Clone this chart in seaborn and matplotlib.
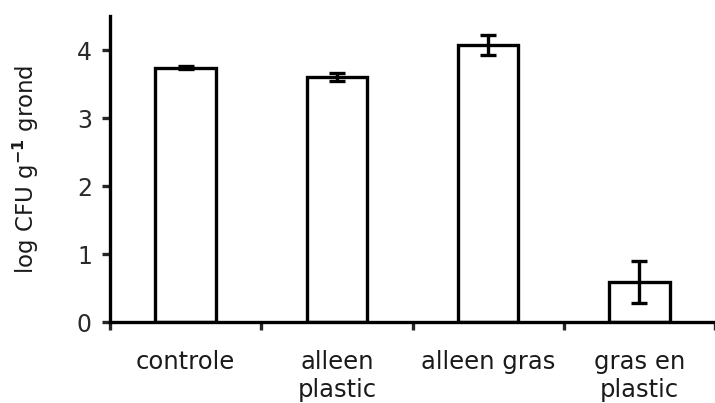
import matplotlib
matplotlib.use("Agg")
import matplotlib.pyplot as plt
import seaborn as sns
import numpy as np
import pandas as pd

categories = ["controle", "alleen\nplastic", "alleen gras", "gras en\nplastic"]
values = [3.74, 3.60, 4.07, 0.59]
errors = [0.02, 0.06, 0.15, 0.31]
yticks = [0, 1, 2, 3, 4]
ylabel = "log CFU g$^{\\mathbf{-1}}$ grond"

sns.set_style("ticks")
plt.rcParams["font.family"] = ["DejaVu Sans"]

df = pd.DataFrame({"cat": categories, "val": values, "err": errors})

fig = plt.figure(figsize=(7.15, 4.03), dpi=100)
ax = fig.add_axes([110 / 715, 81 / 403, 605 / 715, 306 / 403])

lw = 2.4
sns.barplot(data=df, x="cat", y="val", order=categories, color="white",
            edgecolor="black", linewidth=lw, width=0.4, errorbar=None, ax=ax,
            saturation=1)
ax.errorbar(np.arange(len(categories)), df["val"], yerr=df["err"], fmt="none",
            ecolor="black", elinewidth=lw, capsize=6, capthick=lw, zorder=5)

ax.set_xlim(-0.5, 3.5)
ax.set_ylim(0, 4.5)
ax.set_yticks(yticks)
ax.set_xlabel("")
ax.set_ylabel(ylabel, fontsize=16.5, color="#1a1a1a", labelpad=26)

for s in ["top", "right"]:
    ax.spines[s].set_visible(False)
for s in ["left", "bottom"]:
    ax.spines[s].set_linewidth(lw)
    ax.spines[s].set_color("black")

ax.tick_params(axis="y", direction="out", length=6, width=lw, pad=7,
               labelsize=17, labelcolor="#2a2a2a")
ax.tick_params(axis="x", which="major", length=0, pad=20, labelsize=17.5,
               labelcolor="#1a1a1a")
ax.set_xticks(np.arange(-0.5, 3.6, 1.0), minor=True)
ax.tick_params(axis="x", which="minor", direction="out", length=6, width=lw)

fig.savefig("out.png", dpi=100)
